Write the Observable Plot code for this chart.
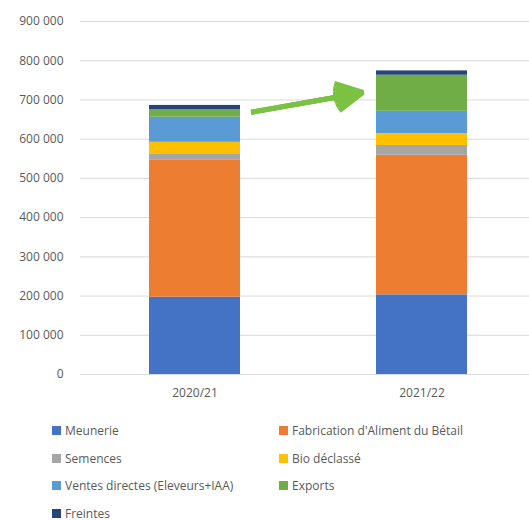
<!DOCTYPE html>
<html>
<head>
<meta charset="utf-8">
<script src="https://cdn.jsdelivr.net/npm/d3@7"></script>
<script src="https://cdn.jsdelivr.net/npm/@observablehq/plot@0.6"></script>
<style>
  body { margin: 0; background: #fff; font-family: "Open Sans", sans-serif; }
  #chart { width: 529px; height: 520px; position: relative; overflow: hidden; }
  .legend { display: grid; grid-template-columns: 227px 240px; row-gap: 10.5px; padding-left: 52px; margin-top: 12px; }
  .item { display: flex; align-items: center; font-size: 12px; color: #595959; height: 17px; line-height: 17px; white-space: nowrap; }
  .sw { width: 9px; height: 9px; margin-right: 4px; flex: none; }
</style>
</head>
<body>
<div id="chart"></div>
<script>
const years = ["2020/21", "2021/22"];
const categories = ["Meunerie", "Fabrication d'Aliment du Bétail", "Semences", "Bio déclassé", "Ventes directes (Eleveurs+IAA)", "Exports", "Freintes"];
const colors = ["#4472c4", "#ed7d31", "#a5a5a5", "#ffc000", "#5b9bd5", "#70ad47", "#264478"];
const values2020 = [197000, 349000, 15000, 31000, 64000, 19000, 11000];
const values2021 = [203000, 356000, 25000, 30000, 57000, 92000, 11000];
const yTicks = [0, 100000, 200000, 300000, 400000, 500000, 600000, 700000, 800000, 900000];
const trend = [{x1: "2020/21", y1: 643000, x2: "2021/22", y2: 746000}];

const data = [];
categories.forEach((c, i) => {
  data.push({year: years[0], cat: c, value: values2020[i]});
  data.push({year: years[1], cat: c, value: values2021[i]});
});

const fmt = d => d3.format(",")(d).replace(/,/g, " ");

const arrowOpts = {x1: "x1", y1: "y1", x2: "x2", y2: "y2", stroke: "#7cc242", strokeWidth: 5, headLength: 9, strokeLinejoin: "miter", strokeLinecap: "butt", insetStart: 57, insetEnd: 60};

const plot = Plot.plot({
  width: 529,
  height: 410,
  marginTop: 21,
  marginBottom: 36,
  marginLeft: 80,
  marginRight: 0,
  style: {fontFamily: "Open Sans, sans-serif", fontSize: "12px", color: "#595959", background: "#fff"},
  x: {domain: years, range: [80, 535], paddingInner: 0.6, paddingOuter: 0.3, label: null, tickSize: 0, tickPadding: 14},
  y: {domain: [0, 900000], ticks: yTicks, tickFormat: fmt, label: null, tickSize: 0, tickPadding: 17},
  color: {domain: categories, range: colors},
  marks: [
    Plot.ruleY(yTicks, {stroke: "#d9d9d9", strokeWidth: 1}),
    Plot.barY(data, {x: "year", y: "value", fill: "cat", order: categories}),
    Plot.arrow(trend, {...arrowOpts, headAngle: 55}),
    Plot.arrow(trend, {...arrowOpts, headAngle: 35}),
    Plot.arrow(trend, {...arrowOpts, headAngle: 15}),
    Plot.axisY({ticks: yTicks, tickFormat: fmt, tickSize: 0, tickPadding: 17, label: null}),
    Plot.axisX({tickSize: 0, tickPadding: 14, label: null})
  ]
});

const root = document.getElementById("chart");
root.appendChild(plot);
const legend = document.createElement("div");
legend.className = "legend";
categories.forEach((c, i) => {
  const it = document.createElement("div");
  it.className = "item";
  const sw = document.createElement("span");
  sw.className = "sw";
  sw.style.background = colors[i];
  it.appendChild(sw);
  it.appendChild(document.createTextNode(c));
  legend.appendChild(it);
});
root.appendChild(legend);
</script>
</body>
</html>
